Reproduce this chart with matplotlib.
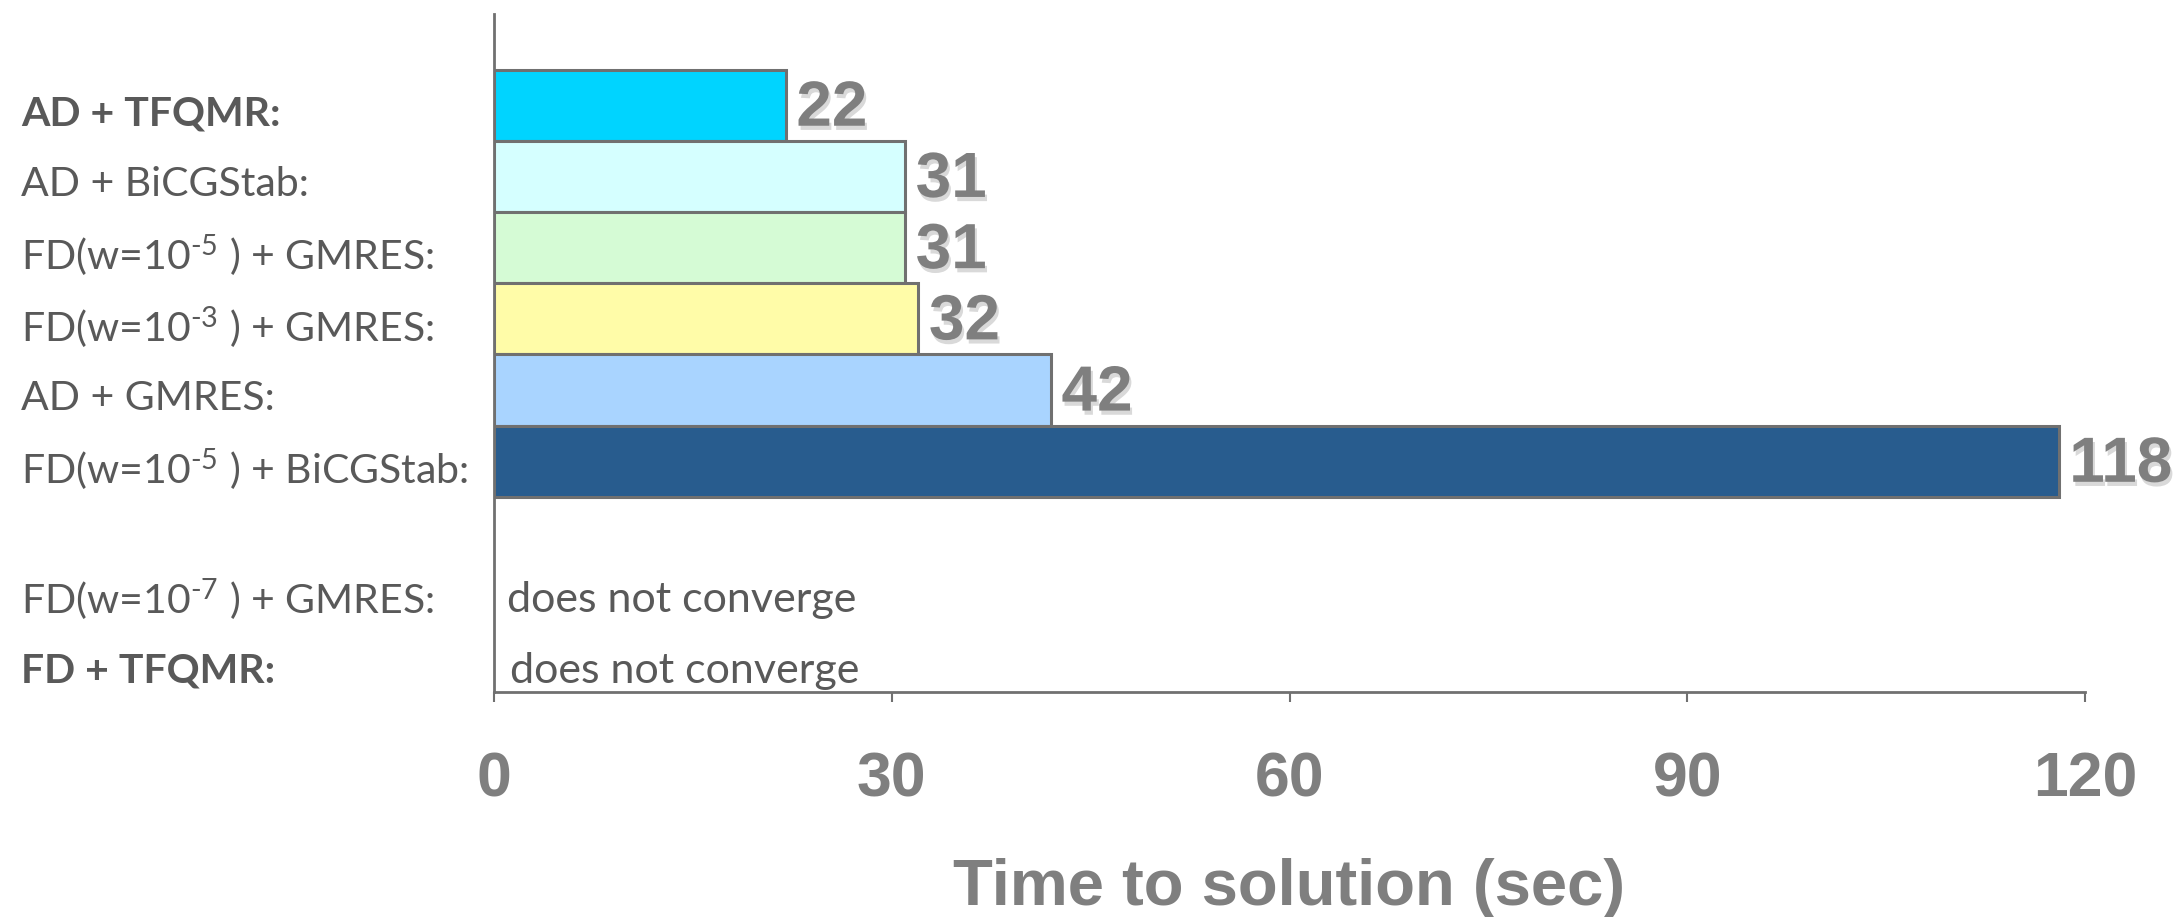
import numpy as np
import matplotlib
matplotlib.use('Agg')
import matplotlib.pyplot as plt
import matplotlib.patheffects as pe
from matplotlib.transforms import blended_transform_factory

# dados
labels = ['AD + TFQMR:', 'AD + BiCGStab:', r'FD(w=10$^{\text{-5}}$ ) + GMRES:',
          r'FD(w=10$^{\text{-3}}$ ) + GMRES:', 'AD + GMRES:', r'FD(w=10$^{\text{-5}}$ ) + BiCGStab:']
times = [22, 31, 31, 32, 42, 118]
colors = ['#00D4FF', '#D5FFFF', '#D5FBD5', '#FFFCA8', '#A9D4FF', '#285C8E']
bold_rows = [0]

nc_labels = [r'FD(w=10$^{\text{-7}}$ ) + GMRES:', 'FD + TFQMR:']
nc_text = 'does not converge'
nc_bold = [1]

xticks = [0, 30, 60, 90, 120]

plt.rcParams.update({'mathtext.fontset': 'custom', 'mathtext.rm': 'Lato',
                     'mathtext.it': 'Lato', 'mathtext.default': 'regular'})

fig = plt.figure(figsize=(21.82, 9.17), dpi=100)
ax = fig.add_axes([0.2264, 0.2454, 0.9556 - 0.2264, 0.9847 - 0.2454])

gray = '#7F7F7F'
txt_gray = '#595959'
lab_size = 29.5

y = np.arange(len(times))
ax.barh(y, times, height=1.0, color=colors, edgecolor='#707070', linewidth=2.2, zorder=2)

shadow = [pe.withSimplePatchShadow(offset=(1.5, -3), shadow_rgbFace='#000000', alpha=0.15)]
for yi, v in zip(y, times):
    ax.text(v + 0.8, yi + 0.05, str(v), ha='left', va='center', fontsize=46,
            fontweight='bold', family='Liberation Sans', color=gray, path_effects=shadow)

# rótulos das categorias
trans = blended_transform_factory(fig.transFigure, ax.transData)
for i, lab in enumerate(labels):
    ax.text(0.0096, i + 0.12, lab, transform=trans, ha='left', va='center', fontsize=lab_size,
            family='Lato', color=txt_gray, fontweight='bold' if i in bold_rows else 'normal')

y_nc = len(times) + 1 + np.arange(len(nc_labels))
for i, (yi, lab) in enumerate(zip(y_nc, nc_labels)):
    ax.text(0.0096, yi - 0.05, lab, transform=trans, ha='left', va='center', fontsize=lab_size,
            family='Lato', color=txt_gray, fontweight='bold' if i in nc_bold else 'normal')
    ax.text(1.0 + 0.2 * i, yi - 0.05, nc_text, ha='left', va='center', fontsize=lab_size + 1.5,
            family='Lato', color=txt_gray)

ax.set_xlim(0, 120)
ax.set_ylim(8.24, -1.28)
ax.set_yticks([])
ax.set_xticks(xticks)
ax.set_xticklabels([str(t) for t in xticks], fontsize=45, fontweight='bold',
                   family='Liberation Sans', color=gray)
ax.tick_params(axis='x', direction='out', length=7, width=1.5, color='#707070', pad=35)

for s in ['top', 'right']:
    ax.spines[s].set_visible(False)
for s in ['left', 'bottom']:
    ax.spines[s].set_color('#707070')
    ax.spines[s].set_linewidth(2)

ax.set_xlabel('Time to solution (sec)', fontsize=47, fontweight='bold',
              family='Liberation Sans', color=gray, labelpad=35)

plt.savefig('out.png', dpi=100)
